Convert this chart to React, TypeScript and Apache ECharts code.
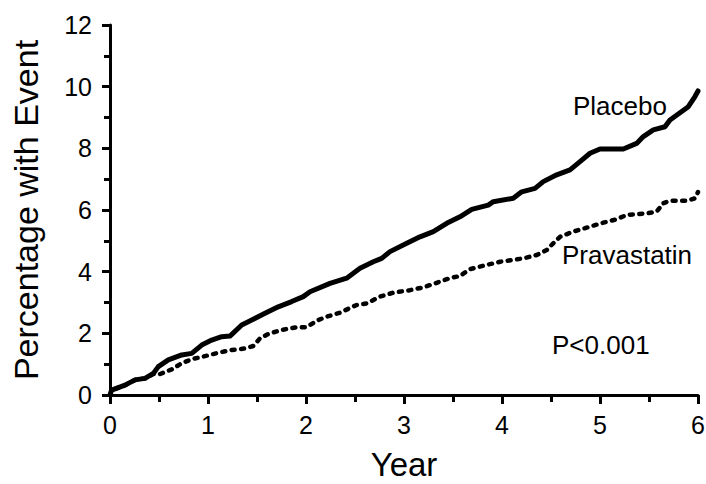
import React, { useEffect, useRef } from "react";
import * as echarts from "echarts";

const placeboX = [0, 0.017, 0.153, 0.255, 0.357, 0.442, 0.493, 0.595, 0.732, 0.834, 0.936, 1.038, 1.14, 1.224, 1.344, 1.446, 1.582, 1.717, 1.854, 1.972, 2.041, 2.245, 2.415, 2.551, 2.687, 2.772, 2.857, 3.028, 3.163, 3.299, 3.436, 3.571, 3.691, 3.86, 3.911, 4.115, 4.201, 4.337, 4.421, 4.558, 4.694, 4.796, 4.898, 5.0, 5.238, 5.374, 5.442, 5.544, 5.663, 5.714, 5.901, 5.969, 6.0];
const placeboY = [0, 0.16, 0.32, 0.49, 0.54, 0.7, 0.92, 1.14, 1.3, 1.35, 1.62, 1.78, 1.89, 1.91, 2.27, 2.43, 2.65, 2.86, 3.03, 3.19, 3.35, 3.62, 3.79, 4.11, 4.32, 4.43, 4.65, 4.92, 5.13, 5.3, 5.57, 5.78, 6.02, 6.16, 6.27, 6.38, 6.59, 6.7, 6.92, 7.14, 7.3, 7.57, 7.84, 7.98, 7.98, 8.16, 8.38, 8.6, 8.7, 8.92, 9.35, 9.68, 9.86];

const pravaX = [0, 0.017, 0.153, 0.255, 0.357, 0.442, 0.51, 0.63, 0.732, 0.834, 0.969, 1.105, 1.242, 1.378, 1.462, 1.531, 1.615, 1.752, 1.905, 2.007, 2.109, 2.211, 2.347, 2.517, 2.619, 2.755, 2.891, 3.061, 3.197, 3.334, 3.469, 3.571, 3.673, 3.844, 3.98, 4.217, 4.354, 4.456, 4.523, 4.592, 4.728, 4.898, 5.034, 5.17, 5.272, 5.477, 5.579, 5.646, 5.714, 5.884, 5.969, 6.0];
const pravaY = [0, 0.16, 0.32, 0.49, 0.54, 0.68, 0.68, 0.83, 1.03, 1.16, 1.26, 1.37, 1.46, 1.51, 1.59, 1.84, 1.98, 2.11, 2.2, 2.2, 2.41, 2.54, 2.67, 2.92, 2.97, 3.19, 3.32, 3.4, 3.49, 3.64, 3.79, 3.86, 4.08, 4.22, 4.32, 4.43, 4.54, 4.7, 4.92, 5.13, 5.3, 5.46, 5.59, 5.7, 5.84, 5.89, 5.95, 6.22, 6.3, 6.3, 6.38, 6.58];

const seriesNames = ["Placebo", "Pravastatin"];
const xAxisTitle = "Year";
const yAxisTitle = "Percentage with Event";
const pValueText = "P<0.001";

const FONT = "'Liberation Sans', Arial, Helvetica, sans-serif";

export default function App() {
  const ref = useRef<HTMLDivElement>(null);
  useEffect(() => {
    if (!ref.current) return;
    const chart = echarts.init(ref.current, null, { renderer: "svg" });
    const pairs = (xs: number[], ys: number[]) => xs.map((x, i) => [x, ys[i]]);
    chart.setOption({
      animation: false,
      backgroundColor: "#ffffff",
      grid: { left: 110, right: 8, top: 25, bottom: 89, containLabel: false, outerBoundsMode: "none" },
      xAxis: {
        type: "value",
        min: 0,
        max: 6,
        interval: 1,
        name: xAxisTitle,
        nameLocation: "middle",
        nameGap: 53,
        nameTextStyle: { color: "#000", fontSize: 33, fontFamily: FONT },
        axisLine: { show: true, onZero: false, lineStyle: { color: "#000", width: 3 } },
        axisTick: { show: true, length: 9, lineStyle: { color: "#000", width: 3 } },
        minorTick: { show: true, splitNumber: 2, length: 7, lineStyle: { color: "#000", width: 3 } },
        axisLabel: { color: "#000", fontSize: 25, fontFamily: FONT, margin: 17 },
        splitLine: { show: false },
        minorSplitLine: { show: false },
      },
      yAxis: {
        type: "value",
        min: 0,
        max: 12,
        interval: 2,
        name: yAxisTitle,
        nameLocation: "middle",
        nameGap: 67,
        nameTextStyle: { color: "#000", fontSize: 34, fontFamily: FONT },
        axisLine: { show: true, onZero: false, lineStyle: { color: "#000", width: 3 } },
        axisTick: { show: true, length: 8, lineStyle: { color: "#000", width: 3 } },
        minorTick: { show: true, splitNumber: 2, length: 6, lineStyle: { color: "#000", width: 3 } },
        axisLabel: { color: "#000", fontSize: 25, fontFamily: FONT, margin: 18 },
        splitLine: { show: false },
        minorSplitLine: { show: false },
      },
      series: [
        {
          name: seriesNames[1],
          type: "line",
          data: pairs(pravaX, pravaY),
          showSymbol: false,
          symbol: "none",
          clip: false,
          lineStyle: { color: "#000", width: 4.5, type: [3, 6.5], cap: "round", join: "round" },
          z: 2,
        },
        {
          name: seriesNames[0],
          type: "line",
          data: pairs(placeboX, placeboY),
          showSymbol: false,
          symbol: "none",
          clip: false,
          lineStyle: { color: "#000", width: 5, type: "solid", cap: "round", join: "round" },
          z: 3,
        },
      ],
      graphic: [
        {
          type: "text",
          left: 573,
          top: 93,
          style: { text: seriesNames[0], fill: "#000", fontSize: 26, fontFamily: FONT },
        },
        {
          type: "text",
          left: 562,
          top: 242,
          style: { text: seriesNames[1], fill: "#000", fontSize: 26, fontFamily: FONT },
        },
        {
          type: "text",
          left: 552,
          top: 332,
          style: { text: pValueText, fill: "#000", fontSize: 26, fontFamily: FONT },
        },
      ],
    });
    return () => chart.dispose();
  }, []);
  return <div ref={ref} style={{ width: 706, height: 484, position: "fixed", left: 0, top: 0 }} />;
}
